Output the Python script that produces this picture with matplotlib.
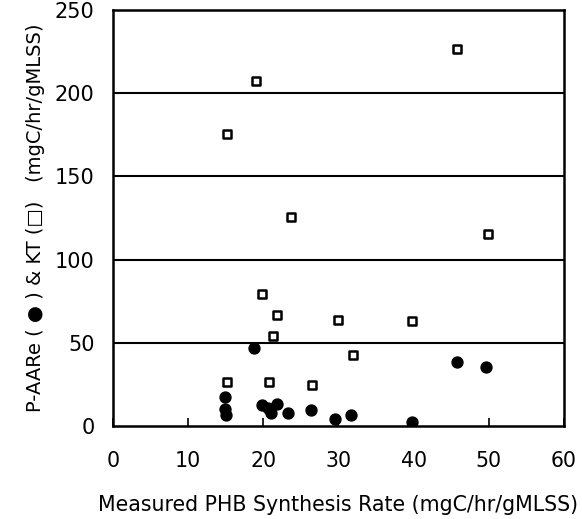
import matplotlib.pyplot as plt

# KT (open squares)
kt_x = [45.8, 19.1, 15.2, 23.7, 49.9, 19.9, 21.9, 29.9, 39.8, 21.3, 32.0, 15.2, 20.8, 26.5]
kt_y = [226.6, 207.6, 175.4, 125.7, 115.6, 79.2, 66.9, 63.9, 63.3, 53.9, 42.5, 26.5, 26.5, 24.6]

# P-AARe (filled circles)
paare_x = [18.8, 45.8, 49.6, 14.9, 14.9, 15.0, 19.8, 21.8, 21.1, 20.7, 23.3, 26.4, 29.6, 31.7, 39.8]
paare_y = [46.9, 38.3, 35.7, 17.4, 10.0, 6.5, 12.6, 13.2, 7.6, 10.6, 7.6, 9.6, 4.2, 6.6, 2.6]

x_ticks = [0, 10, 20, 30, 40, 50, 60]
y_ticks = [0, 50, 100, 150, 200, 250]

plt.rcParams['font.family'] = ['DejaVu Sans']

fig = plt.figure(figsize=(5.82, 5.19), dpi=100)
ax = fig.add_axes([112.7 / 582, 1 - 426 / 519, (564 - 112.7) / 582, (426 - 10) / 519])

ax.scatter(kt_x, kt_y, marker='s', s=38, facecolors='white', edgecolors='black',
           linewidths=1.8, zorder=3)
ax.scatter(paare_x, paare_y, marker='o', s=62, color='black', zorder=3)

for yv in y_ticks[1:-1]:
    ax.axhline(yv, color='black', linewidth=1.5, zorder=1)

ax.set_xlim(0, 60)
ax.set_ylim(0, 250)
ax.set_xticks(x_ticks)
ax.set_yticks(y_ticks)
ax.tick_params(axis='x', direction='in', length=6, width=1.2, pad=18, labelsize=14.8)
ax.tick_params(axis='y', direction='in', length=0, pad=13, labelsize=15)
for s in ax.spines.values():
    s.set_linewidth(1.8)

ax.set_xlabel('Measured PHB Synthesis Rate (mgC/hr/gMLSS)', fontsize=14.8, labelpad=17)
ax.set_ylabel('P-AARe ( \u25CF ) & KT (\u25A1)   (mgC/hr/gMLSS)', fontsize=14, labelpad=7)

plt.savefig('out.png', dpi=100)
